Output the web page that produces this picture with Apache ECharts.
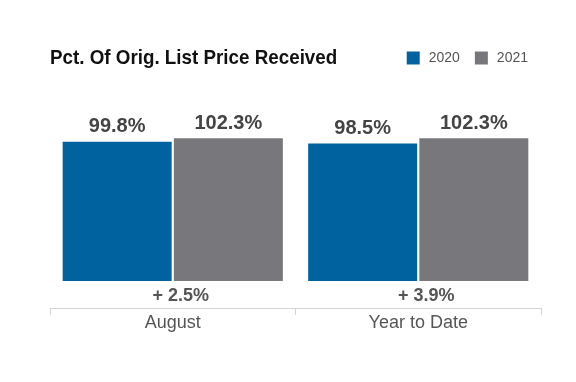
<!DOCTYPE html>
<html><head><meta charset="utf-8">
<script src="https://cdn.jsdelivr.net/npm/echarts@6/dist/echarts.min.js"></script>
<style>html,body{margin:0;padding:0;background:#fff}#c{width:576px;height:382px}</style>
</head><body><div id="c"></div>
<script>
const title = 'Pct. Of Orig. List Price Received';
const categories = ['August', 'Year to Date'];
const changes = ['+ 2.5%', '+ 3.9%'];
const values2020 = [99.8, 98.5];
const values2021 = [102.3, 102.3];
const seriesNames = ['2020', '2021'];

const chart = echarts.init(document.getElementById('c'));
const lbl = {show: true, position: 'top', distance: 5, formatter: p => p.value.toFixed(1) + '%',
  fontFamily: 'Liberation Sans, Arial', fontWeight: 'bold', fontSize: 20, color: '#444'};
chart.setOption({
  animation: false,
  graphic: [{type: 'text', x: 50, y: 48, scaleX: 0.895,
    style: {text: title, fontFamily: 'Liberation Sans, Arial', fontWeight: 'bold', fontSize: 21,
      fill: '#111', verticalAlign: 'top', align: 'left'}}],
  legend: {right: 48, top: 51, padding: 0, itemWidth: 13, itemHeight: 13, itemGap: 15,
    icon: 'rect', textStyle: {fontFamily: 'Liberation Sans, Arial', fontSize: 14, color: '#555', padding: [0, 0, 0, 4]},
    data: seriesNames},
  grid: {left: 50, right: 35, top: 127.5, bottom: 101},
  xAxis: [
    {type: 'category', data: categories, position: 'bottom', offset: 27,
      axisLine: {show: true, onZero: false, lineStyle: {color: '#d4d4d4', width: 1}},
      axisTick: {show: true, length: 7, lineStyle: {color: '#d4d4d4'}},
      axisLabel: {margin: 6, fontFamily: 'Liberation Sans, Arial', fontSize: 18, color: '#555'}},
    {type: 'category', data: changes, position: 'bottom', offset: 0,
      axisLine: {show: false, onZero: false}, axisTick: {show: false},
      axisLabel: {margin: 6, padding: [0, 0, 0, 16], fontFamily: 'Liberation Sans, Arial', fontWeight: 'bold', fontSize: 18, color: '#555'}}
  ],
  yAxis: {type: 'value', min: 0, max: 110, show: false, splitLine: {show: false}},
  series: [
    {name: seriesNames[0], type: 'bar', data: values2020, barWidth: 109, barGap: '2%',
      itemStyle: {color: '#00629f'}, label: lbl},
    {name: seriesNames[1], type: 'bar', data: values2021, barWidth: 109, barGap: '2%',
      itemStyle: {color: '#78777c'}, label: lbl}
  ]
});
</script></body></html>
